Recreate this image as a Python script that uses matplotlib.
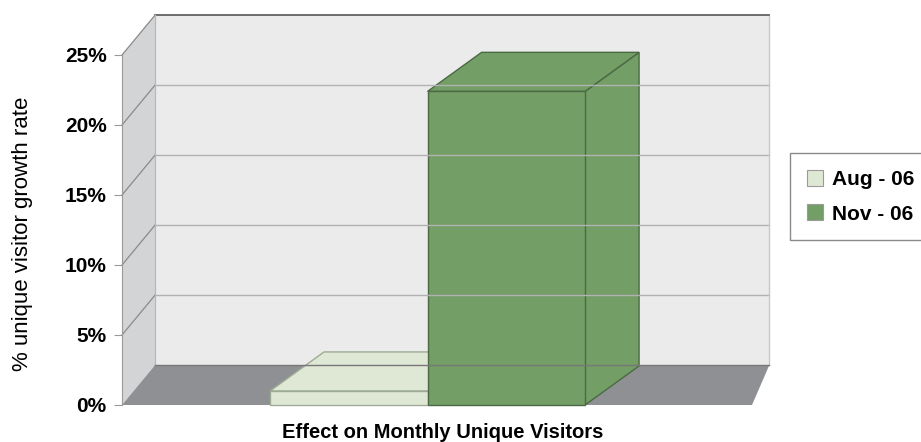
import matplotlib.pyplot as plt
from matplotlib.patches import Polygon, Patch

# data
series = ['Aug - 06', 'Nov - 06']
growth = [1.0, 22.4]          # % unique visitor growth rate
yticks = [0, 5, 10, 15, 20, 25]
ytick_labels = ['0%', '5%', '10%', '15%', '20%', '25%']
xlabel = 'Effect on Monthly Unique Visitors'
ylabel = '% unique visitor growth rate'

# colours
face = ['#dfe8d5', '#739e66']
edge = ['#9eab94', '#4b6a43']
back_col = '#ebebeb'
side_col = '#d3d4d6'
floor_col = '#8f9093'
grid_col = '#b2b2b2'

plt.rcParams['font.family'] = ['Liberation Sans', 'DejaVu Sans']

fig = plt.figure(figsize=(9.21, 4.42), dpi=100)
W, H = 921, 442
# front plane of the box: x 0..4, y 0..25
ax = fig.add_axes([122 / W, (H - 405) / H, 630 / W, 350 / H])
ax.set_xlim(0, 4)
ax.set_ylim(0, 25)

# depth of walls / floor (oblique, back wall a bit narrower on the right)
bx0, bx1, dv = 0.21, 4.11, 2.85
ytop = yticks[-1]

kw = dict(clip_on=False)
# back wall
ax.add_patch(Polygon([(bx0, dv), (bx1, dv), (bx1, ytop + dv), (bx0, ytop + dv)],
                     closed=True, fc=back_col, ec='none', **kw))
for v in yticks[1:-1]:
    ax.plot([bx0, bx1], [v + dv, v + dv], color=grid_col, lw=1, **kw)
ax.plot([bx1, bx1], [dv, ytop + dv], color='#c8c8c8', lw=1, **kw)
ax.plot([bx0, bx1], [ytop + dv, ytop + dv], color='#555555', lw=1.2, **kw)

# left wall
ax.add_patch(Polygon([(0, 0), (0, ytop), (bx0, ytop + dv), (bx0, dv)],
                     closed=True, fc=side_col, ec='none', **kw))
for v in yticks[1:]:
    ax.plot([0, bx0], [v, v + dv], color='#8a8a8a', lw=0.9, **kw)
ax.plot([bx0, bx0], [dv, ytop + dv], color='#b8b8b8', lw=0.9, **kw)

# floor
ax.add_patch(Polygon([(0, 0), (4, 0), (bx1, dv), (bx0, dv)],
                     closed=True, fc=floor_col, ec='none', **kw))
ax.plot([bx0, bx1], [dv, dv], color='#777777', lw=1, **kw)

# 3d columns
bar_left = 0.94
bar_w = 1.0
ddx, ddy = 0.343, 2.79
for i, val in enumerate(growth):
    x0 = bar_left + i * bar_w
    x1 = x0 + bar_w
    # right side
    ax.add_patch(Polygon([(x1, 0), (x1 + ddx, ddy), (x1 + ddx, val + ddy), (x1, val)],
                         closed=True, fc=face[i], ec=edge[i], lw=1, **kw))
    # top
    ax.add_patch(Polygon([(x0, val), (x1, val), (x1 + ddx, val + ddy), (x0 + ddx, val + ddy)],
                         closed=True, fc=face[i], ec=edge[i], lw=1, **kw))
    # front
    ax.add_patch(Polygon([(x0, 0), (x1, 0), (x1, val), (x0, val)],
                         closed=True, fc=face[i], ec=edge[i], lw=1, **kw))

# axes styling
for s in ['top', 'right', 'bottom']:
    ax.spines[s].set_visible(False)
ax.spines['left'].set_color('#9a9a9a')
ax.set_facecolor('none')
ax.set_xticks([])
ax.set_yticks(yticks)
ax.set_yticklabels(ytick_labels, fontsize=15, fontweight='bold')
ax.tick_params(axis='y', length=6, color='#9a9a9a', pad=5)
ax.set_ylabel(ylabel, fontsize=16)
ax.yaxis.set_label_coords(-89 / 630, 0.49)
fig.text(443 / W, 1 - 432 / H, xlabel, fontsize=14.5, fontweight='bold',
         ha='center', va='center')

# legend
handles = [Patch(fc=face[i], ec='#9a9a9a', lw=0.8) for i in range(len(series))]
leg = fig.legend(handles, series, loc='upper left',
                 bbox_to_anchor=(790 / W, 1 - 153 / H), borderaxespad=0,
                 fancybox=False, edgecolor='#8a8a8a', framealpha=1,
                 prop={'size': 15, 'weight': 'bold'}, handlelength=0.8,
                 handleheight=0.8, labelspacing=0.75, handletextpad=0.4,
                 borderpad=0.8)
leg.get_frame().set_linewidth(1)

fig.savefig('out.png', dpi=100)
